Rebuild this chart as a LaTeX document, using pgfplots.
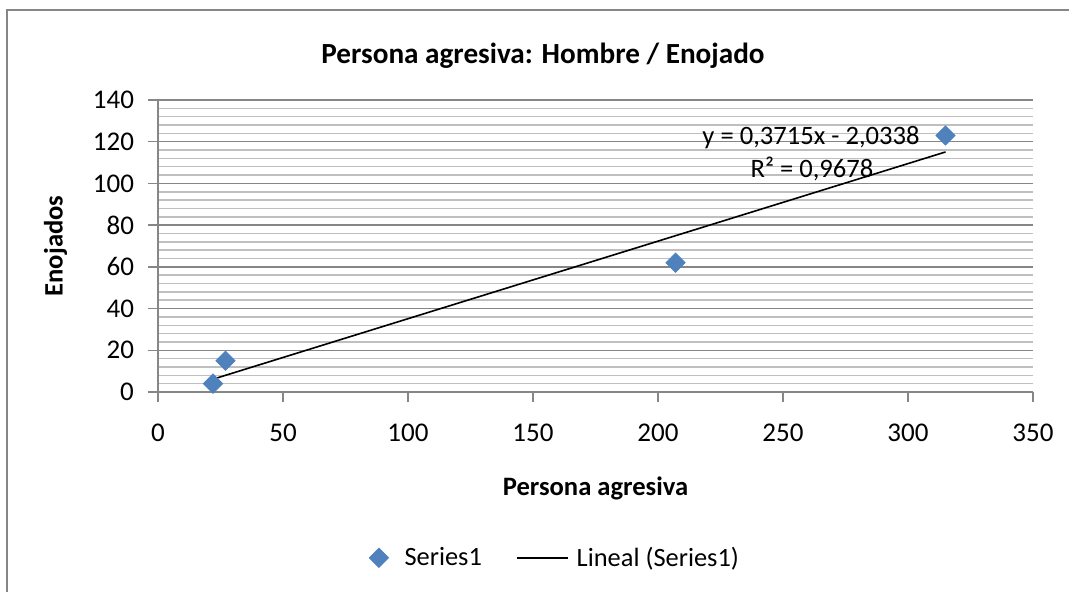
\documentclass[border=0pt]{standalone}
\usepackage{pgfplots}
\pgfplotsset{compat=1.18}
\usepackage{fontspec}
\setmainfont{Carlito}
\definecolor{majgrid}{HTML}{868686}
\definecolor{mingrid}{HTML}{BFBFBF}
\definecolor{serblue}{HTML}{4F81BD}
\begin{document}
\begin{tikzpicture}[x=0.5pt,y=-0.5pt]
\path[use as bounding box] (0,0) rectangle (1069,592);
\draw[majgrid, line width=0.75pt] (7,592) -- (7,10) -- (1069,10);
\node[font=\fontsize{14.6}{17}\selectfont\bfseries] at (543,56) {Persona agresiva: Hombre / Enojado};
\begin{axis}[
  at={(79pt,-196pt)}, anchor=south west,
  scale only axis, width=437.5pt, height=146pt,
  xmin=0, xmax=350, ymin=0, ymax=140,
  xtick={0,50,...,350}, ytick={0,20,...,140},
  minor y tick num=4,
  axis lines=left, axis line style={majgrid, line width=0.75pt, -},
  tick align=outside, major tick length=5pt, minor tick length=0pt,
  tick style={majgrid, line width=0.75pt},
  ymajorgrids, yminorgrids,
  major grid style={majgrid, line width=0.75pt},
  minor grid style={mingrid, line width=0.75pt},
  ticklabel style={font=\fontsize{13.5}{16}\selectfont},
  /pgf/number format/assume math mode=true,
  yticklabel style={xshift=-3.5pt},
  xticklabel style={yshift=-7.5pt},
  xlabel={Persona agresiva}, ylabel={Enojados},
  label style={font=\fontsize{13.3}{16}\selectfont\bfseries},
  xlabel style={yshift=-10.5pt},
  ylabel style={yshift=6pt},
  clip=false,
  legend style={draw=none, at={(0.455,-0.568)}, anchor=center,
    font=\fontsize{13.2}{16}\selectfont, legend columns=2,
    /tikz/every even column/.append style={column sep=15pt}},
]
\addplot[only marks, mark=square*, mark size=3.4pt,
  mark options={rotate=45, fill=serblue, draw=serblue}]
  coordinates {(22,4) (27,15) (207,62) (315,123)};
\addlegendentry{\hspace{6pt}Series1}
\addplot[black, line width=0.8pt, legend image code/.code={\draw[black, line width=0.8pt] (-0.2cm,0) -- (0.7cm,0);}]
  coordinates {(22,6.139) (315,115.089)};
\addlegendentry{\hspace{2pt}Lineal (Series1)}
\node[font=\fontsize{13.3}{16}\selectfont] at (axis cs:261.2,121.8) {y = 0,3715x - 2,0338};
\node[font=\fontsize{13.3}{16}\selectfont] at (axis cs:261.6,106.9) {R² = 0,9678};
\end{axis}
\end{tikzpicture}
\end{document}
